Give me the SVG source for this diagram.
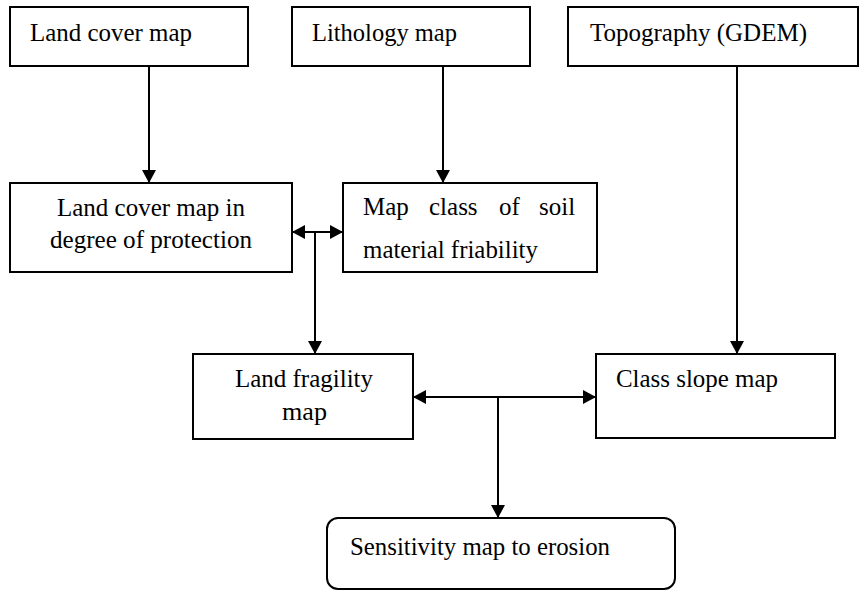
<svg xmlns="http://www.w3.org/2000/svg" width="865" height="592" viewBox="0 0 865 592">
<style>
.box{fill:#fff;stroke:#000;stroke-width:2}
.c{fill:none;stroke:#000;stroke-width:2}
</style>
<defs>
<marker id="ah" viewBox="0 0 13 14" refX="13" refY="7" markerWidth="13" markerHeight="14" markerUnits="userSpaceOnUse" orient="auto-start-reverse">
<path d="M0,0 L13,7 L0,14 z" fill="#000"/>
</marker>
</defs>
<rect width="865" height="592" fill="#fff"/>
<g id="connectors">
<line class="c" x1="149" y1="66" x2="149" y2="183" marker-end="url(#ah)"/>
<line class="c" x1="443" y1="66" x2="443" y2="183" marker-end="url(#ah)"/>
<line class="c" x1="737" y1="66" x2="737" y2="354" marker-end="url(#ah)"/>
<line class="c" x1="292" y1="232" x2="343" y2="232" marker-start="url(#ah)" marker-end="url(#ah)"/>
<line class="c" x1="315" y1="232" x2="315" y2="354" marker-end="url(#ah)"/>
<line class="c" x1="413" y1="397" x2="596" y2="397" marker-start="url(#ah)" marker-end="url(#ah)"/>
<line class="c" x1="498" y1="397" x2="498" y2="518" marker-end="url(#ah)"/>
</g>
<g id="land-cover">
<rect class="box" x="10" y="7" width="238" height="59"/>
<text font-family="Liberation Serif, serif" font-size="25" x="30" y="41" textLength="162" lengthAdjust="spacingAndGlyphs">Land cover map</text>
</g>
<g id="lithology">
<rect class="box" x="292" y="7" width="238" height="59"/>
<text font-family="Liberation Serif, serif" font-size="25" x="312" y="41" textLength="145" lengthAdjust="spacingAndGlyphs">Lithology map</text>
</g>
<g id="topography">
<rect class="box" x="568" y="7" width="290" height="59"/>
<text font-family="Liberation Serif, serif" font-size="25" x="590" y="41" textLength="217" lengthAdjust="spacingAndGlyphs">Topography (GDEM)</text>
</g>
<g id="protection">
<rect class="box" x="10" y="183" width="282" height="89"/>
<text font-family="Liberation Serif, serif" font-size="25" x="57" y="216" textLength="188" lengthAdjust="spacingAndGlyphs">Land cover map in</text>
<text font-family="Liberation Serif, serif" font-size="25" x="50" y="248" textLength="202" lengthAdjust="spacingAndGlyphs">degree of protection</text>
</g>
<g id="friability">
<rect class="box" x="343" y="183" width="254" height="89"/>
<text font-family="Liberation Serif, serif" font-size="25" y="215"><tspan x="363">Map</tspan><tspan x="429">class</tspan><tspan x="499">of</tspan><tspan x="539">soil</tspan></text>
<text font-family="Liberation Serif, serif" font-size="25" x="363" y="258" textLength="175" lengthAdjust="spacingAndGlyphs">material friability</text>
</g>
<g id="fragility">
<rect class="box" x="193" y="354" width="220" height="85"/>
<text font-family="Liberation Serif, serif" font-size="25" x="235" y="387" textLength="138" lengthAdjust="spacingAndGlyphs">Land fragility</text>
<text font-family="Liberation Serif, serif" font-size="25" x="282" y="420" textLength="45" lengthAdjust="spacingAndGlyphs">map</text>
</g>
<g id="slope">
<rect class="box" x="596" y="354" width="239" height="84"/>
<text font-family="Liberation Serif, serif" font-size="25" x="616" y="387" textLength="162" lengthAdjust="spacingAndGlyphs">Class slope map</text>
</g>
<g id="sensitivity">
<rect class="box" x="327" y="518" width="348" height="71" rx="11" ry="11"/>
<text font-family="Liberation Serif, serif" font-size="25" x="350" y="555" textLength="260" lengthAdjust="spacingAndGlyphs">Sensitivity map to erosion</text>
</g>
</svg>
